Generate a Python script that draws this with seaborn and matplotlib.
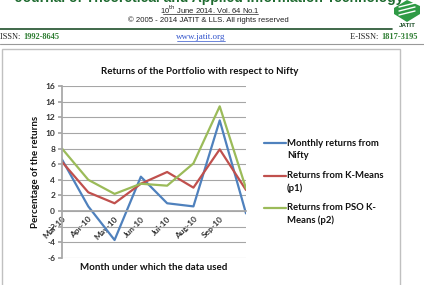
import numpy as np
import pandas as pd
import matplotlib
matplotlib.use("Agg")
import matplotlib.pyplot as plt
import seaborn as sns
from matplotlib.lines import Line2D
from matplotlib.patches import Rectangle, Polygon

months = ["Mar-10", "Apr-10", "May-10", "Jun-10", "Jul-10", "Aug-10", "Sep-10", ""]
nifty = [6.6, 0.6, -3.7, 4.4, 1.0, 0.6, 11.6, -0.3]
kmeans = [6.3, 2.4, 1.0, 3.5, 5.0, 3.0, 7.9, 2.7]
pso = [8.0, 4.0, 2.2, 3.5, 3.25, 6.1, 13.4, 2.9]
series_names = ["Monthly returns from\nNifty", "Returns from K-Means\n(p1)", "Returns from PSO K-\nMeans (p2)"]
colors = ["#4F81BD", "#C0504D", "#9BBB59"]
yticks = list(range(-6, 17, 2))

W, H = 424, 285
sns.set_theme(style="white")
plt.rcParams['font.family'] = ['Lato', 'DejaVu Sans']

fig = plt.figure(figsize=(W / 100, H / 100), dpi=100)
fig.patch.set_facecolor("white")
renderer = fig.canvas.get_renderer()

def fx(px):
    return px / W

def fy(py):
    return 1 - py / H

def width_px(t):
    return t.get_window_extent(renderer=renderer).width

# ---- page header ----
fig.text(fx(209), fy(2.3), "Journal of Theoretical and Applied Information Technology",
         ha="center", va="baseline", fontsize=10, fontweight="bold", color="#1f6b30",
         family="Liberation Sans")
fig.text(fx(210), fy(10), r"10$^{\rm th}$ June 2014. Vol. 64 No.1", ha="center", va="center",
         fontsize=5.5, color="#222222", family="Liberation Sans")
fig.add_artist(Line2D([fx(163), fx(258)], [fy(13.5), fy(13.5)], color="#222222", lw=0.5))
fig.text(fx(208), fy(20.5), "© 2005 - 2014 JATIT & LLS. All rights reserved",
         ha="center", va="center", fontsize=5.6, color="#222222", family="Liberation Sans")
fig.add_artist(Line2D([0, fx(392)], [fy(28.5), fy(28.5)], color="#1f4f2a", lw=1.2))

t1 = fig.text(0, fy(37), "ISSN: ", ha="left", va="center", fontsize=6, color="#222222",
              family="Liberation Serif")
fig.text(fx(width_px(t1) + 1), fy(37), "1992-8645", ha="left", va="center", fontsize=6,
         color="#2e7d32", fontweight="bold", family="Liberation Serif")
fig.text(fx(201), fy(37), "www.jatit.org", ha="center", va="center", fontsize=6.5,
         color="#3355cc", family="Liberation Serif")
fig.add_artist(Line2D([fx(177), fx(225)], [fy(41), fy(41)], color="#3355cc", lw=0.5))
t2 = fig.text(fx(418), fy(37), "1817-3195", ha="right", va="center", fontsize=6,
              color="#2e7d32", fontweight="bold", family="Liberation Serif")
fig.text(fx(418 - width_px(t2) - 1), fy(37), "E-ISSN: ", ha="right", va="center", fontsize=6,
         color="#222222", family="Liberation Serif")
fig.add_artist(Line2D([0, 1], [fy(43.5), fy(43.5)], color="#999999", lw=0.8))

# logo
fig.add_artist(Polygon([[fx(394), fy(8)], [fx(407), fy(0)], [fx(420), fy(6)], [fx(420), fy(14)],
                        [fx(407), fy(22)], [fx(394), fy(14)]], closed=True,
                       facecolor="#2f9a45", edgecolor="none"))
for k in range(3):
    fig.add_artist(Line2D([fx(399), fx(415)], [fy(7 + 4 * k), fy(3 + 4 * k)], color="white", lw=1.0))
fig.text(fx(407), fy(25.5), "JATIT", ha="center", va="center", fontsize=4.5, fontweight="bold",
         color="#1f4f2a", family="Liberation Sans")

# chart frame
fig.add_artist(Rectangle((fx(2), fy(290)), fx(398), fy(49) - fy(290), fill=False,
                         edgecolor="#c0c0c0", lw=1.0))

# ---- plot ----
rows = []
for name, vals in zip(series_names, [nifty, kmeans, pso]):
    for i, (m, v) in enumerate(zip(months, vals)):
        rows.append({"idx": i, "month": m, "value": v, "series": name})
df = pd.DataFrame(rows)

ax = fig.add_axes([fx(62), fy(258), fx(246) - fx(62), fy(86) - fy(258)])
sns.lineplot(data=df, x="idx", y="value", hue="series", palette=colors, ax=ax,
             linewidth=1.6, legend=False, sort=False)
ax.set_xlim(0, len(months) - 1)
ax.set_ylim(-6, 16)
ax.set_yticks(yticks)
ax.set_yticklabels([str(t) for t in yticks], fontsize=6, fontweight="bold", color="#333333")
ax.yaxis.grid(True, color="#a6a6a6", lw=0.8)
ax.set_axisbelow(True)
for s in ["top", "right"]:
    ax.spines[s].set_visible(False)
ax.spines["left"].set_color("#a6a6a6")
ax.spines["bottom"].set_color("#a6a6a6")
ax.spines["bottom"].set_position(("data", 0))
ax.tick_params(axis="y", length=3, color="#a6a6a6", pad=2, left=True)
ax.tick_params(axis="x", length=0, pad=3, bottom=True)
ax.set_xticks(range(len(months)))
ax.set_xticklabels(months, rotation=45, ha="right", va="top", rotation_mode="anchor",
                   fontsize=6, fontweight="bold", color="#333333")
ax.set_xlabel("")
ax.set_ylabel("")

fig.text(fx(200), fy(71), "Returns of the Portfolio with respect to Nifty", ha="center",
         va="center", fontsize=7, fontweight="bold", color="#111111")
fig.text(fx(154), fy(267), "Month under which the data used", ha="center", va="center",
         fontsize=7, fontweight="bold", color="#111111")
fig.text(fx(36), fy(172), "Percentage of the returns", ha="center", va="center",
         rotation=90, fontsize=7, fontweight="bold", color="#111111")

# legend
leg_y = [143, 176, 208]
for name, c, y in zip(series_names, colors, leg_y):
    fig.add_artist(Line2D([fx(264), fx(286)], [fy(y), fy(y)], color=c, lw=1.6))
    fig.text(fx(287), fy(y - 4.5), name, ha="left", va="top", fontsize=6.8, fontweight="bold",
             color="#111111", linespacing=1.45)

fig.savefig("out.png", dpi=100)
